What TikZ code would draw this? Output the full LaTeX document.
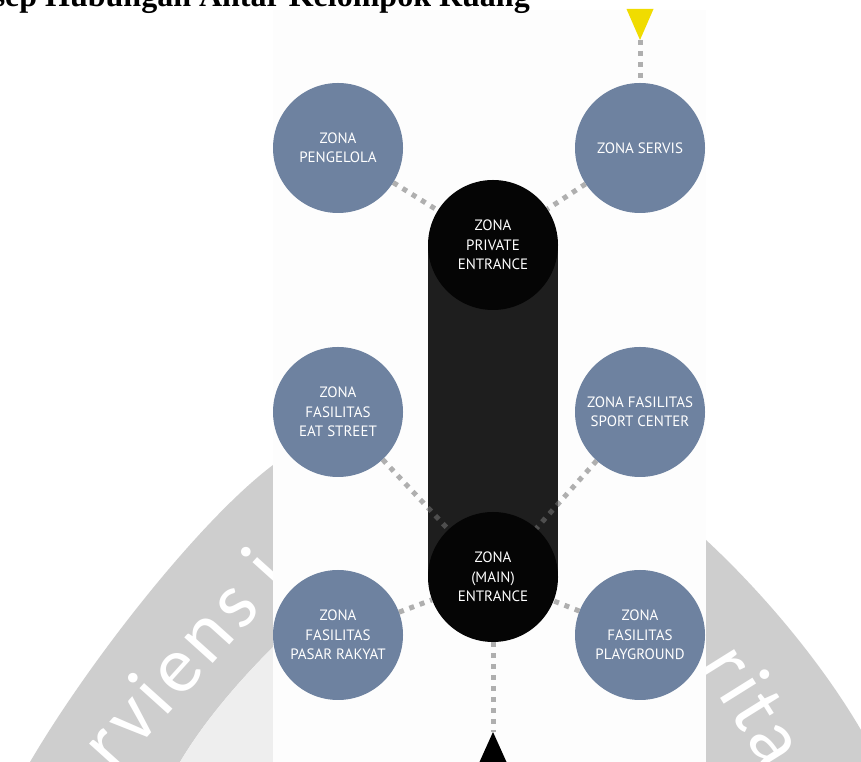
\documentclass[tikz,border=0pt]{standalone}
\usepackage{fontspec}
\setmainfont{Liberation Serif}
\newfontfamily\zonefont{PT Sans}
\newfontfamily\sealfont{Carlito}[LetterSpace=6]

\definecolor{zoneblue}{HTML}{6E82A0}
\definecolor{pillgray}{HTML}{1E1E1E}
\definecolor{hubblack}{HTML}{050505}
\definecolor{linkgray}{HTML}{747474}
\definecolor{arrowyellow}{HTML}{F0DC00}
\definecolor{sealband}{HTML}{CECECE}
\definecolor{sealinner}{HTML}{EEEEEE}
\definecolor{panelwhite}{HTML}{FDFDFD}

\begin{document}
\begin{tikzpicture}[x=1pt,y=1pt,
  zone/.style={circle, fill=zoneblue, minimum size=130pt, inner sep=0pt,
    text=white, align=center, font=\zonefont\fontsize{15}{19.5}\selectfont},
  hub/.style={zone, fill=hubblack},
  link/.style={draw=linkgray, draw opacity=0.57, line width=5pt,
    dash pattern=on 5pt off 6pt},
  sealtext/.style={text=white, inner sep=0pt, font=\sealfont\fontsize{80}{80}\selectfont}]
\useasboundingbox (0,0) rectangle (861,762);
\begin{scope}
\clip (0,0) rectangle (861,762);
\fill[white] (0,0) rectangle (861,762);

% seal watermark behind the panel
\fill[sealband] (290,297) -- (273,297) .. controls (200,242) and (90,102) .. (30,0)
  -- (180,0) .. controls (205,42) and (240,82) .. (273,115) -- (290,115) -- cycle;
\fill[sealinner] (273,115) .. controls (240,82) and (205,42) .. (180,0)
  -- (290,0) -- (290,115) -- cycle;
\fill[sealband] (690,222) -- (706,222) .. controls (760,172) and (820,102) .. (861,32)
  -- (861,0) -- (690,0) -- cycle;
\node[sealtext, rotate=48] (sealL) at (182,104) {rviens i};
\node[sealtext, rotate=-58] (sealR) at (756,58) {rita};

% panel
\fill[panelwhite] (273,0) rectangle (706,752);

% pill joining the two entrances
\fill[pillgray] (428,185) rectangle (558,517);

% zones
\node[zone] (peng)  at (338,614) {ZONA\\PENGELOLA};
\node[zone] (serv)  at (640,614) {ZONA SERVIS};
\node[hub]  (priv)  at (493,517) {ZONA\\PRIVATE\\ENTRANCE};
\node[zone] (eat)   at (338,350) {ZONA\\FASILITAS\\EAT STREET};
\node[zone] (sport) at (640,350) {ZONA FASILITAS\\SPORT CENTER};
\node[hub]  (main)  at (493,185) {ZONA\\(MAIN)\\ENTRANCE};
\node[zone] (pasar) at (338,127) {ZONA\\FASILITAS\\PASAR RAKYAT};
\node[zone] (play)  at (640,127) {ZONA\\FASILITAS\\PLAYGROUND};

% access points
\coordinate (tipY) at (640,722);
\coordinate (tipB) at (493,30);
\fill[arrowyellow] (626.5,753) -- (653.5,753) -- (tipY) -- cycle;
\fill[black] (tipB) -- (475,-10) -- (511,-10) -- cycle;

% links
\draw[link] (peng) -- (priv);
\draw[link] (serv) -- (priv);
\draw[link] (eat) -- (main);
\draw[link] (sport) -- (main);
\draw[link] (pasar) -- (main);
\draw[link] (play) -- (main);
\draw[link] (tipY) -- (serv);
\draw[link] (main) -- (tipB);

% heading
\node[anchor=base east, inner sep=0pt, font=\bfseries\fontsize{32}{32}\selectfont]
  (title) at (530,755) {Konsep Hubungan Antar Kelompok Ruang};
\end{scope}
\end{tikzpicture}
\end{document}
